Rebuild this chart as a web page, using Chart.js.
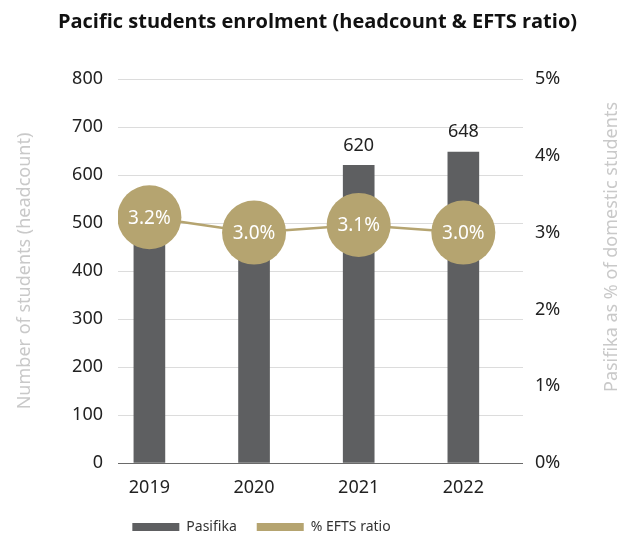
<!DOCTYPE html>
<html>
<head>
<meta charset="utf-8">
<script src="https://cdn.jsdelivr.net/npm/chart.js@4"></script>
<style>
  html, body { margin: 0; padding: 0; background: #fff; }
</style>
</head>
<body>
<canvas id="grafico" width="635" height="537"></canvas>
<script>
const anos = ["2019", "2020", "2021", "2022"];
const pasifika = [490, 455, 620, 648];
const eftsRatio = [3.2, 3.0, 3.1, 3.0];

const corBarra = "#5e5f61";
const corOuro = "#b5a470";
const corTitulo = "#c9c9c9";
const fonte = "'Noto Sans', 'Open Sans', sans-serif";

// rótulos de valores
const rotulosPlugin = {
  id: "rotulos",
  afterDatasetDraw(chart, args) {
    const { ctx } = chart;
    const meta = args.meta;
    ctx.save();
    ctx.textAlign = "center";
    ctx.textBaseline = "middle";
    if (args.index === 0) {
      ctx.fillStyle = "#222";
      ctx.font = "18px " + fonte;
      meta.data.forEach((barra, i) => {
        ctx.fillText(String(pasifika[i]), barra.x, barra.y - 20);
      });
    } else {
      ctx.fillStyle = "#fff";
      ctx.font = "19px " + fonte;
      meta.data.forEach((ponto, i) => {
        ctx.fillText(eftsRatio[i].toFixed(1) + "%", ponto.x, ponto.y + 1);
      });
    }
    ctx.restore();
  }
};

// título do eixo direito, lido de baixo para cima
const tituloDireitaPlugin = {
  id: "tituloDireita",
  afterDraw(chart) {
    const { ctx } = chart;
    ctx.save();
    ctx.translate(612, 247);
    ctx.rotate(-Math.PI / 2);
    ctx.textAlign = "center";
    ctx.textBaseline = "middle";
    ctx.fillStyle = corTitulo;
    ctx.font = "18px " + fonte;
    ctx.fillText("Pasifika as % of domestic students", 0, 0);
    ctx.restore();
  }
};

// legenda um pouco à esquerda do centro, como no original
const legendaPlugin = {
  id: "legendaDesloc",
  afterLayout(chart) {
    chart.legend.left -= 56;
    chart.legend.right -= 56;
  }
};

new Chart(document.getElementById("grafico"), {
  type: "bar",
  data: {
    datasets: [
      {
        type: "bar",
        label: "Pasifika",
        data: anos.map((a, i) => ({ x: Number(a), y: pasifika[i] })),
        backgroundColor: corBarra,
        barThickness: 31,
        yAxisID: "y",
        order: 2
      },
      {
        type: "line",
        label: "% EFTS ratio",
        data: anos.map((a, i) => ({ x: Number(a), y: eftsRatio[i] })),
        borderColor: corOuro,
        backgroundColor: corOuro,
        borderWidth: 2.5,
        pointRadius: 32,
        pointHoverRadius: 32,
        pointBackgroundColor: corOuro,
        pointBorderWidth: 0,
        yAxisID: "y1",
        order: 1
      }
    ]
  },
  options: {
    responsive: false,
    animation: false,
    layout: { padding: { top: 0, bottom: -7, left: 0, right: 0 } },
    plugins: {
      title: {
        display: true,
        text: "Pacific students enrolment (headcount & EFTS ratio)",
        color: "#111",
        font: { family: "'Open Sans', sans-serif", size: 20, weight: "bold" },
        padding: { top: 10, bottom: 45 }
      },
      legend: {
        position: "bottom",
        labels: {
          color: "#333",
          font: { family: fonte, size: 14 },
          boxWidth: 47,
          boxHeight: 8,
          padding: 20,
          generateLabels(chart) {
            return Chart.defaults.plugins.legend.labels.generateLabels(chart)
              .sort((a, b) => a.datasetIndex - b.datasetIndex)
              .map(l => { l.lineWidth = 0; return l; });
          }
        }
      },
      tooltip: { enabled: false }
    },
    scales: {
      x: {
        type: "linear",
        offset: false,
        min: 2018.7,
        max: 2022.57,
        grid: { display: false, drawTicks: false },
        border: { display: false },
        ticks: {
          stepSize: 1,
          includeBounds: false,
          color: "#222",
          font: { family: fonte, size: 18 },
          padding: 14,
          callback: v => anos.find(a => Number(a) === v) || ""
        },
        afterFit(scale) { scale.height = 37; }
      },
      y: {
        position: "left",
        min: 0,
        max: 800,
        ticks: { stepSize: 100, color: "#222", font: { family: fonte, size: 18 }, padding: 15 },
        grid: {
          drawTicks: false,
          color: ctx => ctx.tick.value === 0 ? "#6a6a6a" : "#dcdcdc",
          lineWidth: 1
        },
        border: { display: false },
        title: {
          display: true,
          text: "Number of students (headcount)",
          color: corTitulo,
          font: { family: fonte, size: 18 },
          padding: { top: 14, bottom: 0 }
        },
        afterFit(scale) { scale.width = 118; }
      },
      y1: {
        position: "right",
        min: 0,
        max: 5,
        ticks: {
          stepSize: 1,
          color: "#222",
          font: { family: fonte, size: 18 },
          padding: 12,
          callback: v => v + "%"
        },
        grid: { display: false, drawTicks: false },
        border: { display: false },
        afterFit(scale) { scale.width = 112; }
      }
    }
  },
  plugins: [rotulosPlugin, tituloDireitaPlugin, legendaPlugin]
});
</script>
</body>
</html>
